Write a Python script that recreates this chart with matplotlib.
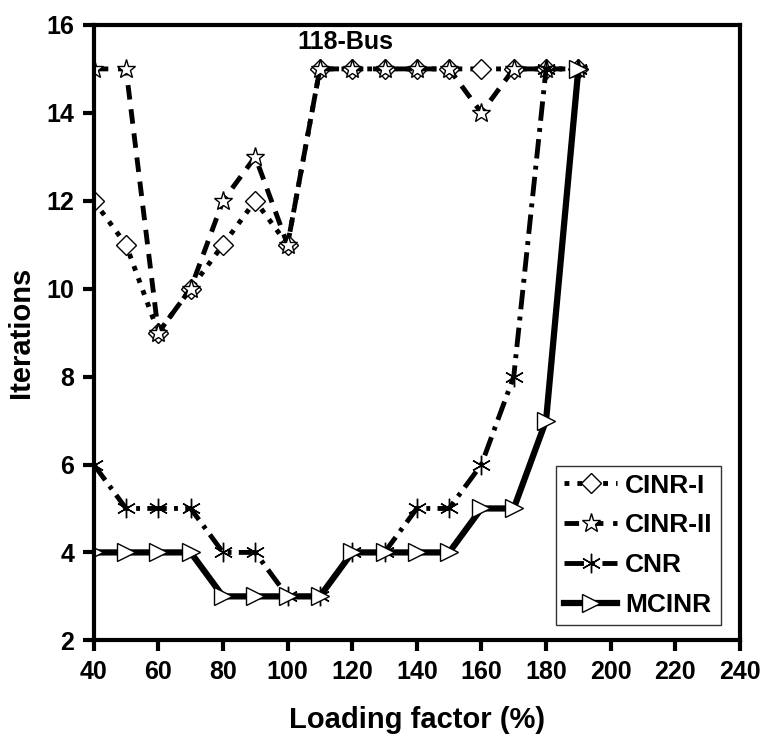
import matplotlib
matplotlib.use('Agg')
import matplotlib.pyplot as plt

plt.rcParams['font.family'] = ['Liberation Sans', 'DejaVu Sans']
plt.rcParams['font.weight'] = 'bold'

# === Data ===
load = [40, 50, 60, 70, 80, 90, 100, 110, 120, 130, 140, 150, 160, 170, 180, 190]
cinr_1 = [12, 11, 9, 10, 11, 12, 11, 15, 15, 15, 15, 15, 15, 15, 15, 15]
cinr_2 = [15, 15, 9, 10, 12, 13, 11, 15, 15, 15, 15, 15, 14, 15, 15, 15]
cnr = [6, 5, 5, 5, 4, 4, 3, 3, 4, 4, 5, 5, 6, 8, 15, 15]
mcinr = [4, 4, 4, 4, 3, 3, 3, 3, 4, 4, 4, 4, 5, 5, 7, 15]
xticks = list(range(40, 241, 20))
yticks = list(range(2, 17, 2))

fig = plt.figure(figsize=(7.62, 7.56), dpi=100)
ax = fig.add_axes([0.123, 0.153, 0.848, 0.814])

ax.plot(load, cinr_1, ls=':', lw=3.5, color='black', marker='D', ms=10,
        mfc='white', mec='black', mew=1, label='CINR-I')
ax.plot(load, cinr_2, ls=(0, (3, 2)), lw=3.5, color='black', marker='*', ms=14,
        mfc='white', mec='black', mew=1, label='CINR-II')
ax.plot(load, cnr, ls=(0, (4, 1.5, 0.8, 1.5)), lw=3.5, color='black', marker=(6, 2, 0), ms=14,
        mfc='white', mec='black', mew=1, label='CNR')
ax.plot(load, mcinr, ls='-', lw=4.5, color='black', marker='>', ms=13,
        mfc='white', mec='black', mew=1, label='MCINR')

ax.text(118, 15.35, '118-Bus', ha='center', va='bottom', fontsize=18, fontweight='bold')

ax.set_xlim(40, 240)
ax.set_ylim(2, 16)
ax.set_xticks(xticks)
ax.set_yticks(yticks)
ax.tick_params(axis='both', direction='out', length=8, width=3, labelsize=18, pad=6)
for s in ax.spines.values():
    s.set_linewidth(3)

ax.set_xlabel('Loading factor (%)', fontsize=21, fontweight='bold', labelpad=16)
ax.set_ylabel('Iterations', fontsize=21, fontweight='bold', labelpad=8)

leg = ax.legend(loc='lower right', bbox_to_anchor=(0.97, 0.025), fontsize=19, frameon=True,
                fancybox=False, edgecolor='black', handlelength=2.0, handletextpad=0.3,
                borderpad=0.3, labelspacing=0.6, borderaxespad=0)
leg.get_frame().set_linewidth(1)

plt.savefig('out.png', dpi=100)
plt.close()
